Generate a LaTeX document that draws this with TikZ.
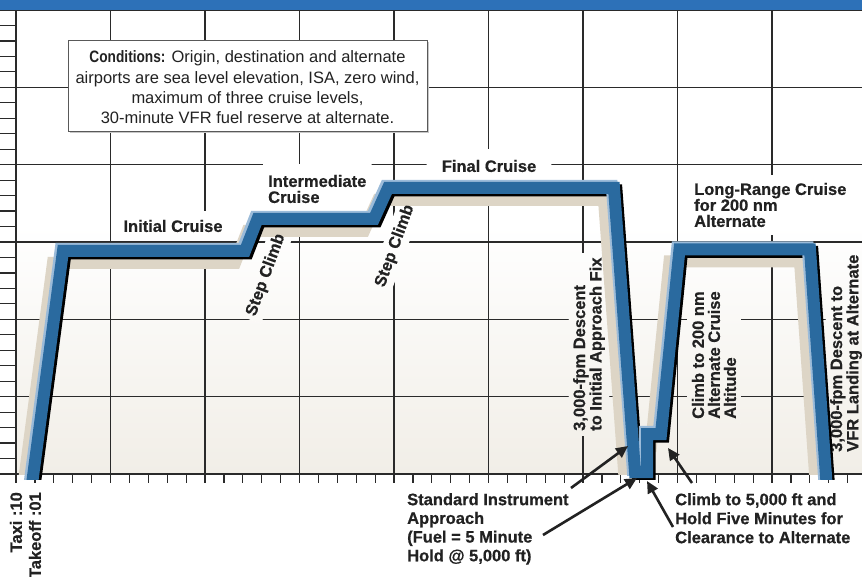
\documentclass[tikz,border=0pt]{standalone}
\usepackage{fontspec}
\setmainfont{Liberation Sans}
\newfontfamily\condfont[FakeStretch=0.83]{Liberation Sans}
\newfontfamily\labfont[FakeBold=0.6]{Liberation Sans}
\usetikzlibrary{arrows.meta}
\definecolor{banner}{HTML}{2D71B8}
\definecolor{gridc}{HTML}{2A2A2A}
\definecolor{bgbot}{HTML}{F1EEE7}
\definecolor{bandblue}{HTML}{2A6A9F}
\definecolor{bandhi}{HTML}{9BBBD9}
\definecolor{shadowc}{HTML}{DDD5C6}
\definecolor{labc}{HTML}{222222}
\pgfdeclarelayer{bglayer}
\pgfdeclarelayer{gridlayer}
\pgfdeclarelayer{knocklayer}
\pgfsetlayers{bglayer,gridlayer,knocklayer,main}
\newcommand{\paintbg}{%
  \fill[white] (16,10) rectangle (862,474);
  \shade[top color=white,bottom color=bgbot] (16,225) rectangle (862,474);}
\newcommand{\knock}[1]{%
  \begin{pgfonlayer}{knocklayer}
  \begin{scope}
  \clip (#1.south west) -- (#1.south east) -- (#1.north east) -- (#1.north west) -- cycle;
  \paintbg
  \end{scope}
  \end{pgfonlayer}}
\def\profilepath{(31.2,490) -- (63,251) -- (245,251) -- (257.5,219) -- (374,219) -- (388,188) -- (614,188) -- (635,472) -- (647,472) -- (647,434) -- (661,434) -- (679.5,249.5) -- (810,249.5) -- (827,490)}
\tikzset{
 lab/.style={font=\fontsize{16.5}{16}\selectfont\labfont\bfseries, text=labc, inner sep=3pt},
 blab/.style={font=\fontsize{16.5}{18.7}\selectfont\labfont\bfseries, text=labc, inner sep=0pt},
 gridline/.style={draw=gridc, line width=1.2pt},
 tickline/.style={draw=gridc, line width=1.2pt},
 arr/.style={draw=labc, line width=2.6pt, -{Triangle[length=12pt,width=11pt]}},
 band/.style={line width=12pt, line join=miter, miter limit=20},
}
\begin{document}
\begin{tikzpicture}[x=1pt,y=-1pt]
\useasboundingbox (0,0) rectangle (862,577);
% background
\begin{pgfonlayer}{bglayer}
\fill[white] (0,0) rectangle (862,577);
\paintbg
\end{pgfonlayer}
% grid
\begin{pgfonlayer}{gridlayer}
\foreach \i in {1,...,8} \draw[gridline] ({16+94.5*\i},10) -- ({16+94.5*\i},474);
\foreach \j in {0,...,5} \draw[gridline] (16,{10+77.333*\j}) -- (862,{10+77.333*\j});
\draw[gridline, line width=1.4pt] (16,10) -- (16,474) -- (862,474);
\foreach \k in {0,...,30} \draw[tickline] (0,{10+15.4667*\k}) -- (16,{10+15.4667*\k});
\foreach \k in {0,...,44} \draw[tickline] ({16+18.9*\k},474) -- ({16+18.9*\k},483);
\end{pgfonlayer}
% banner
\fill[banner] (0,0) rectangle (862,10);
% shadow of profile
\begin{scope}
\clip (16,0) rectangle (862,474.5);
\draw[band, shadowc, shift={(-10,12)}] \profilepath;
\end{scope}
% labels with knockouts
\node[lab, inner sep=8pt] (ic) at (173,226) {Initial Cruise};
\knock{ic}
\node[lab, inner xsep=15pt, inner ysep=10pt] (fc) at (489,166) {Final Cruise};
\knock{fc}
\node[lab, align=left, anchor=west, inner xsep=5pt, inner ysep=10pt] (imc) at (263,189) {Intermediate\\Cruise};
\knock{imc}
\node[lab, align=left, anchor=west, inner sep=7pt] (lrc) at (687,205) {Long-Range Cruise\\for 200 nm\\Alternate};
\knock{lrc}
\node[lab, rotate=70, inner sep=4pt] (sc1) at (266,275) {Step Climb};
\knock{sc1}
\node[lab, rotate=70, inner sep=4pt] (sc2) at (395,246) {Step Climb};
\knock{sc2}
\node[lab, rotate=90, anchor=west, align=left, inner sep=4pt, font=\fontsize{16.5}{15}\selectfont\labfont\bfseries] (d1) at (589,435) {3,000-fpm Descent\\to Initial Approach Fix};
\knock{d1}
\node[lab, rotate=90, anchor=west, align=left, inner sep=4pt] (c200) at (714,423) {Climb to 200 nm\\Alternate Cruise\\Altitude};
\knock{c200}
\node[lab, rotate=90, anchor=west, align=left, inner sep=4pt, font=\fontsize{16.5}{15}\selectfont\labfont\bfseries] (d2) at (846,456) {3,000-fpm Descent to\\VFR Landing at Alternate};
\knock{d2}
% profile band
\begin{scope}
\clip (16,0) rectangle (862,479);
\draw[band, black, shift={(2.5,2.5)}] \profilepath;
\draw[band, bandhi, shift={(-2.2,-2.2)}] \profilepath;
\draw[band, bandblue] \profilepath;
\end{scope}
% conditions box
\node[fill=black!22, minimum width=359pt, minimum height=91pt, inner sep=0pt] (condsh) at (249.5,87.5) {};
\node[draw=black!65, fill=white, line width=0.8pt, minimum width=359pt, minimum height=91pt, inner sep=0pt] (cond) at (247.5,85.5) {};
\node[align=center, text=labc, font=\fontsize{16.5}{20.3}\selectfont, inner sep=0pt] (condt) at (247.5,87.5)
  {{\condfont\bfseries Conditions:} Origin, destination and alternate\\airports are sea level elevation, ISA, zero wind,\\maximum of three cruise levels,\\30-minute VFR fuel reserve at alternate.};
% bottom labels
\node[lab, rotate=90, anchor=east, inner sep=0pt] (taxi) at (16,492) {Taxi :10};
\node[lab, rotate=90, anchor=east, inner sep=0pt] (tko) at (35,492) {Takeoff :01};
\node[blab, align=left, anchor=north west] (sia) at (407,493) {Standard Instrument\\Approach\\(Fuel = 5 Minute\\Hold @ 5,000 ft)};
\node[blab, align=left, anchor=north west, font=\fontsize{16.5}{19}\selectfont\labfont\bfseries] (cth) at (675,493) {Climb to 5,000 ft and\\Hold Five Minutes for\\Clearance to Alternate};
% arrows
\coordinate (a1s) at (571,488); \coordinate (a1e) at (628,446);
\coordinate (a2s) at (543,535); \coordinate (a2e) at (637,478);
\coordinate (a3s) at (673,527); \coordinate (a3e) at (647,481);
\coordinate (a4s) at (692,483); \coordinate (a4e) at (668,448);
\draw[arr] (a1s) -- (a1e);
\draw[arr] (a2s) -- (a2e);
\draw[arr] (a3s) -- (a3e);
\draw[arr] (a4s) -- (a4e);
\end{tikzpicture}
\end{document}
